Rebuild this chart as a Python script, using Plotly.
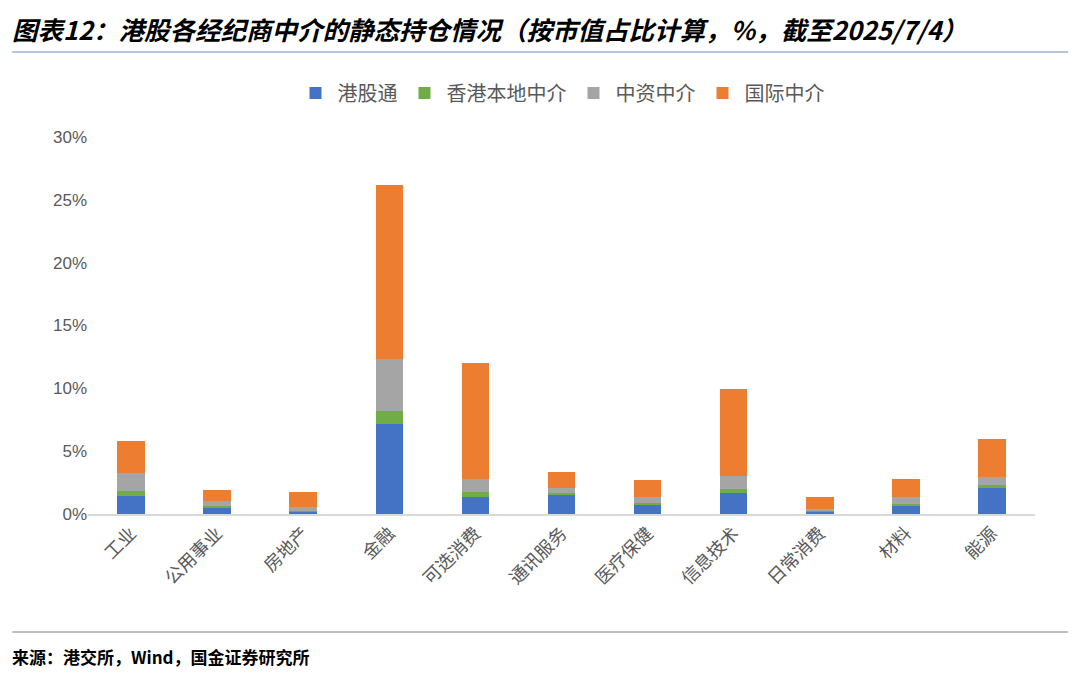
import plotly.graph_objs as go

sectors = ["工业", "公用事业", "房地产", "金融", "可选消费", "通讯服务",
           "医疗保健", "信息技术", "日常消费", "材料", "能源"]
# 持仓占比（%），按图读数估计
hk_connect = [1.43, 0.53, 0.21, 7.16, 1.38, 1.54, 0.74, 1.64, 0.19, 0.64, 2.10]
hk_local = [0.37, 0.13, 0.06, 1.00, 0.40, 0.16, 0.11, 0.37, 0.08, 0.18, 0.18]
cn_broker = [1.44, 0.35, 0.31, 4.20, 0.98, 0.34, 0.50, 1.01, 0.15, 0.53, 0.66]
intl_broker = [2.57, 0.92, 1.20, 13.85, 9.25, 1.30, 1.35, 6.93, 0.93, 1.43, 3.00]

series = [
    ("港股通", hk_connect, "#4472C4"),
    ("香港本地中介", hk_local, "#70AD47"),
    ("中资中介", cn_broker, "#A5A5A5"),
    ("国际中介", intl_broker, "#ED7D31"),
]

font_cn = "Noto Sans CJK SC"

fig = go.Figure()
for name, vals, color in series:
    fig.add_trace(go.Bar(x=sectors, y=[v / 100 for v in vals], name=name,
                         marker_color=color, marker_line_width=0))

# 页面 body 有 8px 边距，边距按此调整
fig.update_layout(
    barmode="stack",
    bargap=0.68,
    width=1080, height=687,
    margin=dict(l=80, r=53, t=129, b=181),
    plot_bgcolor="white", paper_bgcolor="white",
    font=dict(family=font_cn, size=16, color="#595959"),
    showlegend=True,
    legend=dict(orientation="h", x=0.5, xanchor="center", y=1.117, yanchor="middle",
                font=dict(size=20, color="#595959"), traceorder="normal",
                itemwidth=34),
)
fig.update_yaxes(range=[0, 0.30], dtick=0.05, tickformat=".0%", showgrid=False,
                 zeroline=False, showline=False, ticks="",
                 tickfont=dict(family="Liberation Sans, Arial", size=17, color="#595959"))
fig.update_xaxes(showline=True, linecolor="#D9D9D9", linewidth=1.5, tickangle=-45,
                 ticks="", tickfont=dict(size=18, color="#595959"))

fig.add_annotation(
    text="<b><i>图表12：港股各经纪商中介的静态持仓情况（按市值占比计算，%，截至2025/7/4）</i></b>",
    xref="paper", yref="paper", x=-0.082, y=1.289, xanchor="left", yanchor="middle",
    showarrow=False, font=dict(family=font_cn, size=25.5, color="#000000"))
fig.add_annotation(
    text="<b>来源：港交所，Wind，国金证券研究所</b>",
    xref="paper", yref="paper", x=-0.082, y=-0.379, xanchor="left", yanchor="middle",
    showarrow=False, font=dict(family=font_cn, size=17, color="#000000"))
fig.add_shape(type="line", xref="paper", yref="paper", x0=-0.08, x1=1.035,
              y0=1.2255, y1=1.2255, line=dict(color="#9FB3C8", width=1.5))
fig.add_shape(type="line", xref="paper", yref="paper", x0=-0.08, x1=1.035,
              y0=-0.313, y1=-0.313, line=dict(color="#808080", width=1))

fig.write_html("out.html")
